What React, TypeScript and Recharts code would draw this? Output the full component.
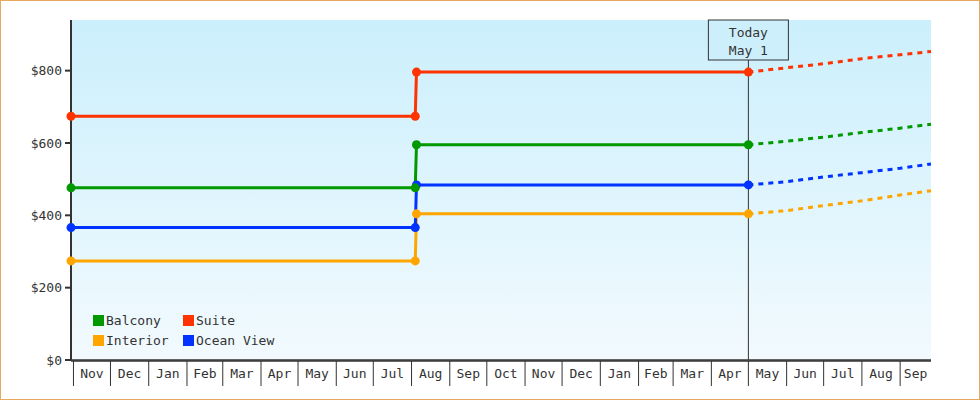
import React from 'react';
import {
  CartesianGrid,
  Line,
  LineChart,
  ReferenceLine,
  XAxis,
  YAxis,
} from 'recharts';

const FONT = '"DejaVu Sans Mono", monospace';
const INK = '#333333';

// fare history (solid) and forecast (dashed), dates as ISO strings
const historyDates = ['2023-10-30', '2024-08-04', '2024-08-05', '2025-05-01'];
const forecastDates = ['2025-05-01', '2025-06-01', '2025-07-01', '2025-08-01', '2025-09-01', '2025-09-26'];

const interiorHistory = [274, 274, 404, 404];
const oceanHistory = [366, 366, 484, 484];
const balconyHistory = [476, 476, 595, 595];
const suiteHistory = [674, 674, 796, 796];

const interiorForecast = [404, 413, 427, 440, 456, 468];
const oceanForecast = [484, 493, 506, 518, 530, 542];
const balconyForecast = [595, 605, 616, 629, 641, 652];
const suiteForecast = [796, 808, 819, 833, 844, 853];

const monthStarts = [
  '2023-11-01', '2023-12-01', '2024-01-01', '2024-02-01', '2024-03-01', '2024-04-01',
  '2024-05-01', '2024-06-01', '2024-07-01', '2024-08-01', '2024-09-01', '2024-10-01',
  '2024-11-01', '2024-12-01', '2025-01-01', '2025-02-01', '2025-03-01', '2025-04-01',
  '2025-05-01', '2025-06-01', '2025-07-01', '2025-08-01', '2025-09-01',
];
const monthLabels = [
  'Nov', 'Dec', 'Jan', 'Feb', 'Mar', 'Apr', 'May', 'Jun', 'Jul', 'Aug', 'Sep', 'Oct',
  'Nov', 'Dec', 'Jan', 'Feb', 'Mar', 'Apr', 'May', 'Jun', 'Jul', 'Aug', 'Sep',
];

const domainStart = '2023-10-30';
const domainEnd = '2025-09-26';
const today = '2025-05-01';
const yTicks = [0, 200, 400, 600, 800];
const yMax = 940;

const series = [
  { key: 'interior', name: 'Interior', color: '#ffa500', history: interiorHistory, forecast: interiorForecast },
  { key: 'ocean', name: 'Ocean View', color: '#0033ff', history: oceanHistory, forecast: oceanForecast },
  { key: 'balcony', name: 'Balcony', color: '#009900', history: balconyHistory, forecast: balconyForecast },
  { key: 'suite', name: 'Suite', color: '#ff3300', history: suiteHistory, forecast: suiteForecast },
];
const legendOrder = ['balcony', 'suite', 'interior', 'ocean'];

const day = (iso: string) => Date.parse(iso + 'T00:00:00Z') / 86400000;

// merge history and forecast into one table keyed by day
const rows = new Map<number, Record<string, number>>();
const row = (iso: string) => {
  const t = day(iso);
  if (!rows.has(t)) rows.set(t, { t });
  return rows.get(t)!;
};
series.forEach((s) => {
  historyDates.forEach((d, i) => (row(d)[s.key] = s.history[i]));
  forecastDates.forEach((d, i) => (row(d)[s.key + 'F'] = s.forecast[i]));
});
const data = [...rows.values()].sort((a, b) => a.t - b.t);

const boundaries = monthStarts.map(day);
const midpoints = boundaries.map((b, i) => (b + (boundaries[i + 1] ?? day(domainEnd))) / 2);
const xTicks = [...boundaries, ...midpoints].sort((a, b) => a - b);

function MonthTick(props: any) {
  const { x, y, payload } = props;
  const v = payload.value;
  const b = boundaries.indexOf(v);
  if (b >= 0) {
    return <line x1={x} x2={x} y1={y} y2={y + 25} stroke={INK} strokeWidth={1} />;
  }
  const m = midpoints.indexOf(v);
  return (
    <text x={x} y={y + 17} textAnchor="middle" fontFamily={FONT} fontSize={13} fill={INK}>
      {monthLabels[m]}
    </text>
  );
}

function TodayLabel(props: any) {
  const { viewBox } = props;
  const cx = viewBox.x;
  const top = viewBox.y;
  return (
    <g>
      <rect x={cx - 40} y={top} width={80} height={40} fill="#cdeffc" stroke={INK} strokeWidth={1} />
      <text x={cx} y={top + 17} textAnchor="middle" fontFamily={FONT} fontSize={13} fill={INK}>
        Today
      </text>
      <text x={cx} y={top + 35} textAnchor="middle" fontFamily={FONT} fontSize={13} fill={INK}>
        May 1
      </text>
    </g>
  );
}

const makeDot = (color: string) => (p: any) => {
  if (p.value == null || p.cx == null) return <g key={p.key ?? p.index} />;
  return <circle key={p.key ?? p.index} cx={p.cx} cy={p.cy} r={4.5} fill={color} stroke="none" />;
};

export default function App() {
  return (
    <div style={{ position: 'relative', width: 980, height: 400, background: '#fff' }}>
      <style>{'body{margin:0}'}</style>
      <LineChart
        width={980}
        height={400}
        data={data}
        margin={{ top: 20, right: 49, left: 0, bottom: 14 }}
      >
        <defs>
          <linearGradient id="plotBg" x1="0" y1="0" x2="0" y2="1">
            <stop offset="0%" stopColor="#cbeffc" />
            <stop offset="100%" stopColor="#f2fafe" />
          </linearGradient>
        </defs>
        <CartesianGrid fill="url(#plotBg)" horizontal={false} vertical={false} stroke="none" />
        <XAxis
          xAxisId="main"
          dataKey="t"
          type="number"
          domain={[day(domainStart), day(domainEnd)]}
          ticks={xTicks}
          interval={0}
          height={25}
          tickSize={0}
          tickMargin={0}
          tickLine={false}
          tick={<MonthTick />}
          axisLine={{ stroke: INK, strokeWidth: 1.5 }}
        />
        <XAxis
          xAxisId="edge"
          dataKey="t"
          type="number"
          domain={[day(domainStart), day(domainEnd)]}
          height={1}
          tick={false}
          tickLine={false}
          axisLine={{ stroke: INK, strokeWidth: 1.5 }}
        />
        <YAxis
          domain={[0, yMax]}
          ticks={yTicks}
          width={71}
          tickSize={6}
          tickMargin={3}
          tickFormatter={(v) => `$${v}`}
          tick={{ fontFamily: FONT, fontSize: 13, fill: INK }}
          tickLine={{ stroke: INK, strokeWidth: 2 }}
          axisLine={{ stroke: INK, strokeWidth: 2 }}
        />
        <ReferenceLine
          xAxisId="main"
          x={day(today)}
          stroke={INK}
          strokeWidth={1}
          label={<TodayLabel />}
        />
        {series.map((s) => (
          <Line
            key={s.key + 'F'}
            xAxisId="main"
            dataKey={s.key + 'F'}
            stroke={s.color}
            strokeWidth={3}
            strokeDasharray="5 5"
            dot={false}
            activeDot={false}
            connectNulls={false}
            isAnimationActive={false}
          />
        ))}
        {series.map((s) => (
          <Line
            key={s.key}
            xAxisId="main"
            dataKey={s.key}
            stroke={s.color}
            strokeWidth={3}
            dot={makeDot(s.color)}
            activeDot={false}
            connectNulls={false}
            isAnimationActive={false}
          />
        ))}
      </LineChart>
      <div
        style={{
          position: 'absolute',
          left: 93,
          top: 315,
          display: 'grid',
          gridTemplateColumns: '90px 110px',
          rowGap: 9,
          fontFamily: FONT,
          fontSize: 13,
          color: INK,
        }}
      >
        {legendOrder.map((k) => {
          const s = series.find((x) => x.key === k)!;
          return (
            <div key={k} style={{ display: 'flex', alignItems: 'center', height: 11, lineHeight: '11px' }}>
              <span style={{ width: 11, height: 11, background: s.color, marginRight: 2 }} />
              <span>{s.name}</span>
            </div>
          );
        })}
      </div>
      <div
        style={{
          position: 'absolute',
          inset: 0,
          border: '1px solid #e8a860',
          pointerEvents: 'none',
        }}
      />
    </div>
  );
}
